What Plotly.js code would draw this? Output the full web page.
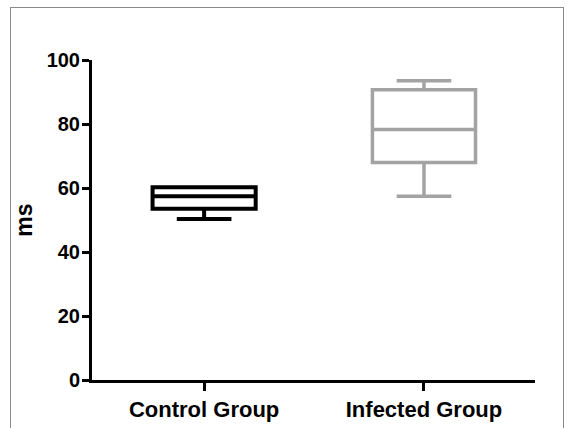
<!DOCTYPE html>
<html><head><meta charset="utf-8">
<script src="https://cdn.plot.ly/plotly-3.0.1.min.js"></script>
<style>
html,body{margin:0;padding:0;background:#fff;}
#frame{position:absolute;left:10px;top:7px;width:554px;height:440px;border:1.5px solid #8a8a8a;box-sizing:border-box;}
#chart{position:absolute;left:0;top:0;width:570px;height:428px;}
</style></head>
<body>
<div id="frame"></div>
<div id="chart"></div>
<script>
const groups = ["Control Group", "Infected Group"];
const lowerWhisker = [50.3, 57.4];
const q1Values = [53.5, 68.0];
const medianValues = [57.4, 78.3];
const q3Values = [60.2, 90.7];
const upperWhisker = [60.2, 93.5];
const colors = ["#000000", "#a3a3a3"];
const widths = [4, 3.5];
const yTicks = [0, 20, 40, 60, 80, 100];

const traces = groups.map((g, i) => ({
  type: "box",
  x: [g],
  q1: [q1Values[i]],
  median: [medianValues[i]],
  q3: [q3Values[i]],
  lowerfence: [lowerWhisker[i]],
  upperfence: [upperWhisker[i]],
  fillcolor: "rgba(0,0,0,0)",
  line: {color: colors[i], width: widths[i]},
  whiskerwidth: 0.53,
  boxpoints: false,
  hoverinfo: "skip",
  showlegend: false
}));

const FONT = "Liberation Sans, Arial, sans-serif";
const layout = {
  width: 570, height: 428,
  margin: {l: 92, r: 35, t: 60, b: 48},
  paper_bgcolor: "rgba(0,0,0,0)",
  plot_bgcolor: "rgba(0,0,0,0)",
  boxmode: "overlay",
  boxgap: 0.33,
  font: {family: FONT, color: "#000"},
  xaxis: {
    type: "category",
    categoryorder: "array", categoryarray: groups,
    range: [-0.51, 1.505],
    showline: true, linecolor: "#000", linewidth: 3,
    ticks: "outside", ticklen: 8, tickwidth: 3, tickcolor: "#000",
    showgrid: false, zeroline: false,
    tickfont: {size: 22, family: FONT, weight: "bold"}
  },
  yaxis: {
    range: [0, 100],
    tickvals: yTicks, ticktext: yTicks.map(String),
    showline: true, linecolor: "#000", linewidth: 3,
    ticks: "outside", ticklen: 7, tickwidth: 3, tickcolor: "#000",
    ticklabelstandoff: -2,
    showgrid: false, zeroline: false,
    tickfont: {size: 20, family: FONT, weight: "bold"},
    title: {text: "ms", standoff: 8, font: {size: 23, family: FONT, weight: "bold"}}
  }
};

Plotly.newPlot("chart", traces, layout, {displayModeBar: false, staticPlot: true});
</script>
</body></html>
